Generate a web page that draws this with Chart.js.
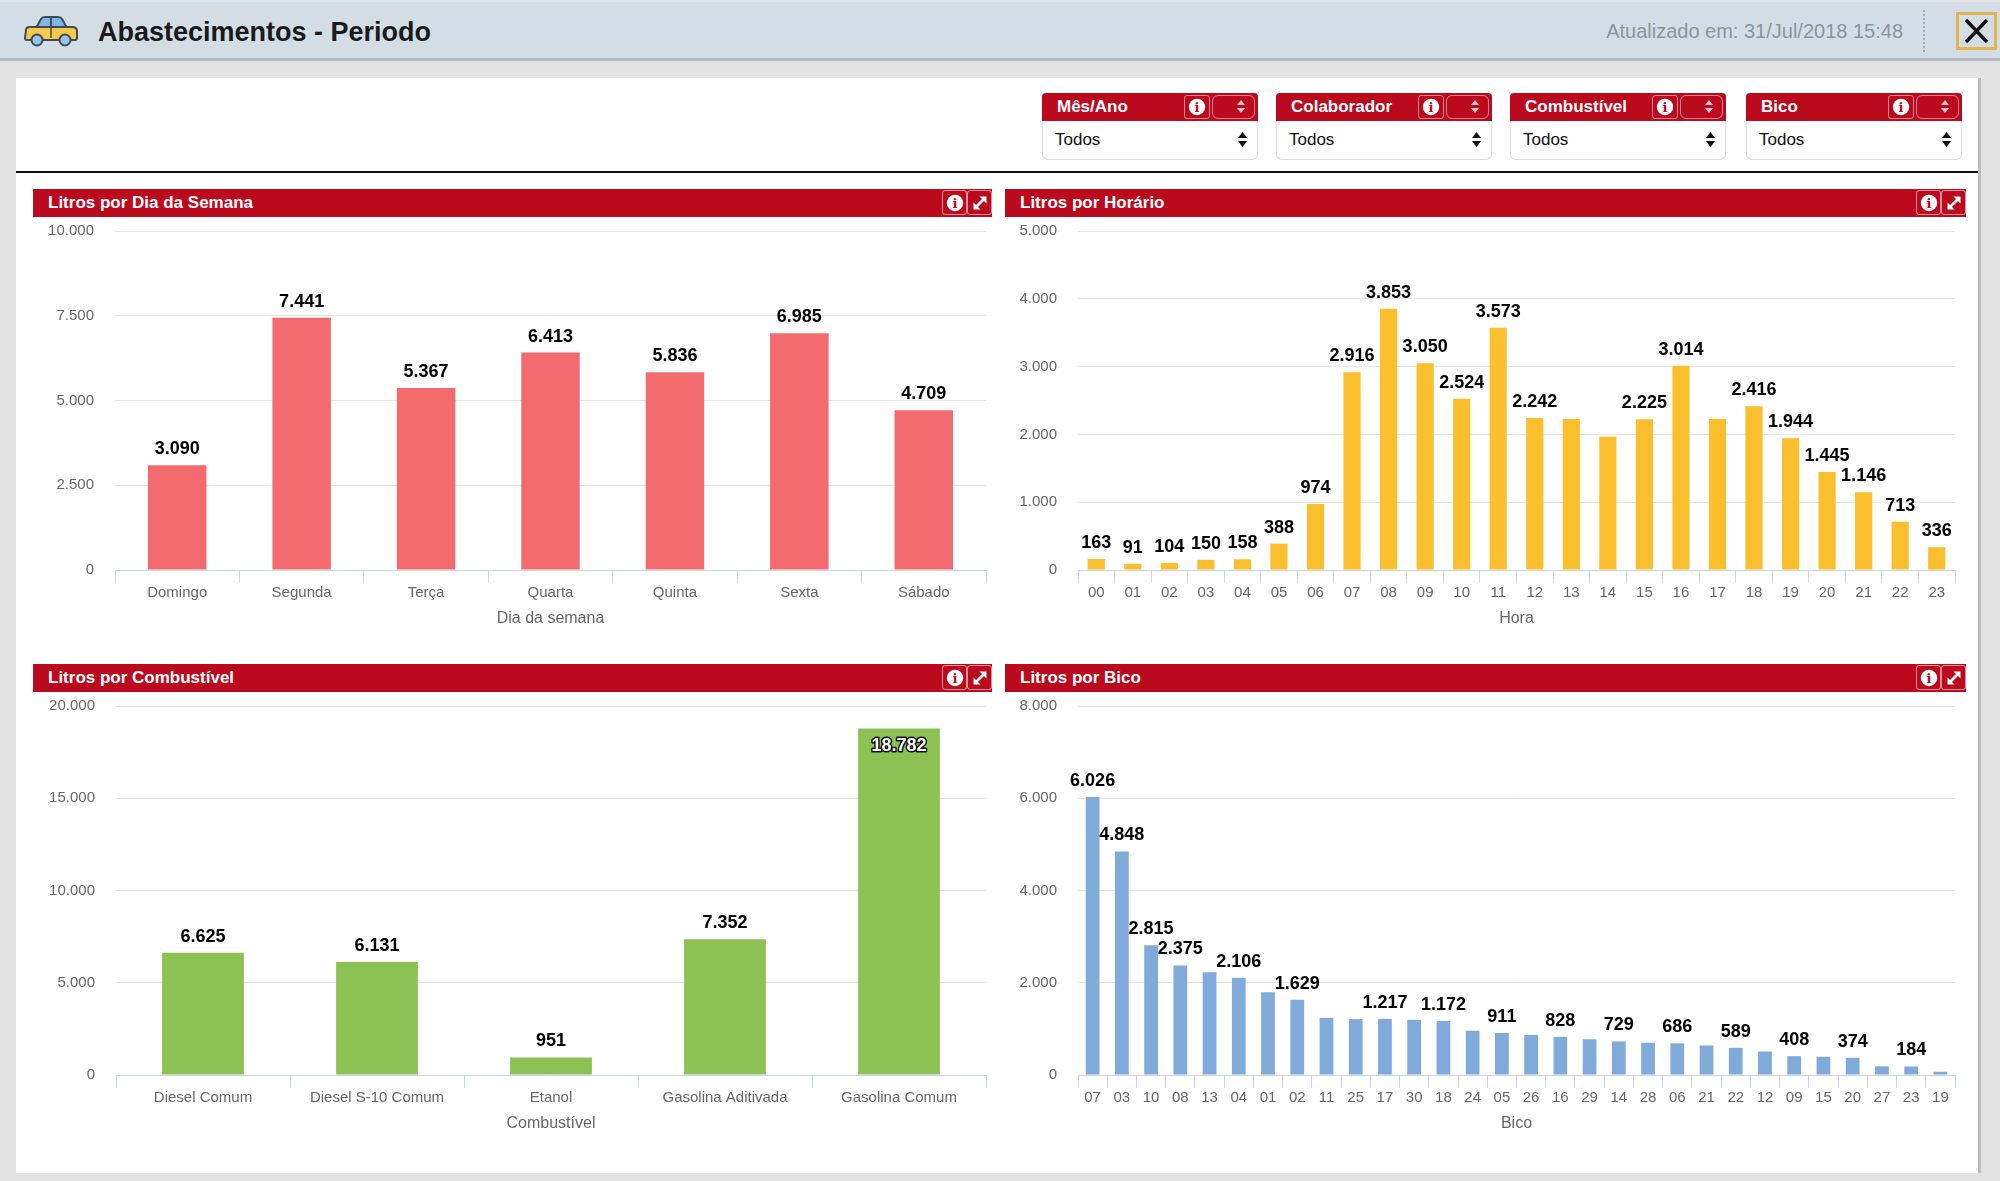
<!DOCTYPE html>
<html><head><meta charset="utf-8">
<script src="https://cdn.jsdelivr.net/npm/chart.js@4.4.1/dist/chart.umd.min.js"></script>
<style>
body{margin:0;width:2000px;height:1181px;overflow:hidden;background:#e3e3e3;position:relative;font-family:"Liberation Sans",Arial,sans-serif;}
.abs{position:absolute;}
#hdr{left:0;top:2px;width:2000px;height:56px;background:#d3dde6;border-bottom:3px solid #b6babe;}
#title{left:98px;top:17px;font-size:27px;font-weight:bold;color:#1a1a1a;white-space:nowrap;}
#upd{right:97px;top:20px;font-size:20px;color:#8b959c;white-space:nowrap;}
#sep{left:1923px;top:10px;height:42px;border-left:2px dotted #a0a8ae;}
#close{left:1956px;top:12px;width:35px;height:32px;border:3px solid #e2b64c;}
#panel{left:16px;top:78px;width:1962px;height:1095px;background:#fff;box-shadow:3px 0 0 #bdbdbd;}
#hline{left:16px;top:171px;width:1962px;height:2px;background:#111;}
.filt{top:93px;width:216px;}
.fh{height:28px;background:#bb0a1e;border-radius:4px 4px 0 0;position:relative;color:#fff;font-weight:bold;font-size:17px;line-height:28px;padding-left:15px;box-sizing:border-box;}
.fi{position:absolute;left:142px;top:2px;width:24px;height:22px;border:1px solid rgba(255,255,255,.5);border-radius:3px;display:flex;align-items:center;justify-content:center;}
.fs{position:absolute;left:170px;top:2px;width:41px;height:22px;border:1px solid rgba(255,255,255,.5);border-radius:6px;}
.fs svg{position:absolute;right:9px;top:4px;}
.sel{height:39px;border:1px solid #dcdcdc;border-top:none;border-radius:0 0 6px 6px;box-sizing:border-box;font-size:17px;line-height:38px;padding-left:12px;color:#111;position:relative;}
.sel svg{position:absolute;right:10px;top:11px;}
.ph{height:28px;background:#bb0a1e;color:#fff;font-weight:bold;font-size:17px;line-height:28px;padding-left:15px;box-sizing:border-box;}
.pb{position:absolute;top:1px;width:23px;height:23px;border:1px solid rgba(255,255,255,.55);border-radius:3px;display:flex;align-items:center;justify-content:center;}
canvas{position:absolute;}
</style>
</head>
<body>
<div id="hdr" class="abs"></div>
<svg class="abs" style="left:22px;top:16px" width="58" height="32" viewBox="0 0 58 32">
 <path d="M14 12 L19 3 Q20 1 23 1 L36 1 Q39 1 40 3 L45 12 Z" fill="#7fb6ea" stroke="#3d4a58" stroke-width="2"/>
 <line x1="29" y1="1" x2="29" y2="12" stroke="#3d4a58" stroke-width="2"/>
 <path d="M4 14 Q4 11 8 11 L50 11 Q55 11 55 15 L55 22 Q55 24 53 24 L5 24 Q3 24 3 22 Z" fill="#f7c94a" stroke="#3d4a58" stroke-width="2"/>
 <line x1="29" y1="12" x2="29" y2="22" stroke="#3d4a58" stroke-width="1.5"/>
 <circle cx="15" cy="24" r="5.5" fill="#9cc4ea" stroke="#3d4a58" stroke-width="2"/>
 <circle cx="43" cy="24" r="5.5" fill="#9cc4ea" stroke="#3d4a58" stroke-width="2"/>
</svg>
<div id="title" class="abs">Abastecimentos - Periodo</div>
<div id="upd" class="abs">Atualizado em: 31/Jul/2018 15:48</div>
<div id="sep" class="abs"></div>
<div id="close" class="abs"><svg width="35" height="32" viewBox="0 0 35 32"><path d="M7 5 L28 27 M28 5 L7 27" stroke="#111" stroke-width="3.4"/></svg></div>
<div id="panel" class="abs"></div>
<div id="hline" class="abs"></div>
<div id="filters"></div>
<div id="panels"></div>
<canvas id="c1" width="959" height="430" style="left:33px;top:217px"></canvas>
<canvas id="c2" width="961" height="430" style="left:1005px;top:217px"></canvas>
<canvas id="c3" width="959" height="460" style="left:33px;top:692px"></canvas>
<canvas id="c4" width="961" height="460" style="left:1005px;top:692px"></canvas>
<script>
// ---- data ----
const diasLabels = ['Domingo','Segunda','Terça','Quarta','Quinta','Sexta','Sábado'];
const diasValores = [3090,7441,5367,6413,5836,6985,4709];

const horaLabels = ['00','01','02','03','04','05','06','07','08','09','10','11','12','13','14','15','16','17','18','19','20','21','22','23'];
const horaValores = [163,91,104,150,158,388,974,2916,3853,3050,2524,3573,2242,2228,1965,2225,3014,2228,2416,1944,1445,1146,713,336];

const combLabels = ['Diesel Comum','Diesel S-10 Comum','Etanol','Gasolina Aditivada','Gasolina Comum'];
const combValores = [6625,6131,951,7352,18782];

const bicoLabels = ['07','03','10','08','13','04','01','02','11','25','17','30','18','24','05','26','16','29','14','28','06','21','22','12','09','15','20','27','23','19'];
const bicoValores = [6026,4848,2815,2375,2230,2106,1793,1629,1240,1212,1217,1195,1172,960,911,870,828,775,729,700,686,640,589,510,408,395,374,188,184,70];

const filtroNomes = ['Mês/Ano','Colaborador','Combustível','Bico'];
const painelTitulos = ['Litros por Dia da Semana','Litros por Horário','Litros por Combustível','Litros por Bico'];

// ---- page furniture ----
const infoSvg = '<svg width="18" height="18" viewBox="0 0 18 18"><circle cx="9" cy="9" r="8.2" fill="#fff"/><text x="9" y="14" text-anchor="middle" font-family="DejaVu Serif, serif" font-weight="bold" font-size="13" fill="#bb0a1e">i</text></svg>';
const expSvg = '<svg width="18" height="18" viewBox="0 0 18 18"><path d="M4 14 L14 4" stroke="#fff" stroke-width="2.6"/><path d="M8.5 2.5 H15.5 V9.5 Z" fill="#fff"/><path d="M2.5 8.5 V15.5 H9.5 Z" fill="#fff"/></svg>';
const spinSvg = '<svg width="8" height="13" viewBox="0 0 8 13"><path d="M4 0 L8 5 H0 Z M0 8 H8 L4 13 Z" fill="#f1c4c9"/></svg>';
const selSvg = '<svg width="9" height="15" viewBox="0 0 9 15"><path d="M4.5 0 L9 6 H0 Z M0 9 H9 L4.5 15 Z" fill="#111"/></svg>';

const fLeft = [1042,1276,1510,1746];
let fh = '';
filtroNomes.forEach((n,i)=>{
  fh += `<div class="abs filt" style="left:${fLeft[i]}px"><div class="fh">${n}<div class="fi">${infoSvg}</div><div class="fs">${spinSvg}</div></div><div class="sel">Todos${selSvg}</div></div>`;
});
document.getElementById('filters').innerHTML = fh;

const pPos = [[33,189,959],[1005,189,961],[33,664,959],[1005,664,961]];
let ph = '';
painelTitulos.forEach((t,i)=>{
  const [l,tp,w] = pPos[i];
  ph += `<div class="abs ph" style="left:${l}px;top:${tp}px;width:${w}px">${t}<div class="pb" style="left:${w-50}px">${infoSvg}</div><div class="pb" style="left:${w-25}px">${expSvg}</div></div>`;
});
document.getElementById('panels').innerHTML = ph;

// ---- charts ----
const FONT = '"Liberation Sans", Arial, sans-serif';
const fmt = v => String(v).replace(/\B(?=(\d{3})+(?!\d))/g, '.');

const valueLabels = {
  id: 'valueLabels',
  afterDatasetsDraw(chart) {
    const ctx = chart.ctx, meta = chart.getDatasetMeta(0), data = chart.data.datasets[0].data, area = chart.chartArea;
    ctx.save();
    ctx.font = 'bold 18px ' + FONT;
    const items = meta.data.map((bar, i) => {
      const text = fmt(data[i]);
      const w = ctx.measureText(text).width;
      let cy = bar.y - 16, inside = false;
      if (cy - 9.5 < area.top) { cy = bar.y + 18; inside = true; }
      return {v: data[i], text, w, x: bar.x, cy, inside, show: false};
    });
    // hide overlapping labels, larger values win
    const order = items.slice().sort((a, b) => b.v - a.v);
    const kept = [];
    order.forEach(it => {
      const b = {l: it.x - it.w / 2 - 2.5, r: it.x + it.w / 2 + 2.5, t: it.cy - 9.5, bt: it.cy + 9.5};
      if (!kept.some(k => b.l < k.r && b.r > k.l && b.t < k.bt && b.bt > k.t)) { kept.push(b); it.show = true; }
    });
    ctx.textAlign = 'center';
    ctx.textBaseline = 'middle';
    items.forEach(it => {
      if (!it.show) return;
      if (it.inside) {
        ctx.lineWidth = 3; ctx.lineJoin = 'round'; ctx.strokeStyle = '#111';
        ctx.strokeText(it.text, it.x, it.cy);
        ctx.fillStyle = '#fff';
      } else ctx.fillStyle = '#000';
      ctx.fillText(it.text, it.x, it.cy);
    });
    ctx.restore();
  }
};

function makeChart(id, labels, values, color, yMax, yStep, xTitle, yWidth, padRight) {
  return new Chart(document.getElementById(id), {
    type: 'bar',
    data: {labels, datasets: [{data: values, backgroundColor: color, borderWidth: 0, barPercentage: 0.47, categoryPercentage: 1}]},
    options: {
      responsive: false, animation: false, devicePixelRatio: 1,
      layout: {autoPadding: false, padding: {top: 14, right: padRight, bottom: 0, left: 0}},
      plugins: {legend: {display: false}, tooltip: {enabled: false}},
      scales: {
        x: {
          grid: {display: true, drawOnChartArea: false, drawTicks: true, tickLength: 13, color: '#ccd6eb', offset: true},
          border: {display: true, color: '#ccd6eb'},
          ticks: {color: '#666', font: {size: 15, family: FONT}, padding: 1, maxRotation: 0, autoSkip: false},
          title: {display: true, text: xTitle, color: '#666', font: {size: 16, family: FONT}, padding: {top: 0, bottom: 19}},
          afterFit(s) { s.height = 77; }
        },
        y: {
          min: 0, max: yMax,
          ticks: {stepSize: yStep, color: '#666', font: {size: 15, family: FONT}, padding: 0, callback: v => fmt(v)},
          grid: {color: '#e6e6e6', drawTicks: true, tickLength: 21, tickColor: 'rgba(0,0,0,0)'},
          border: {display: false},
          afterFit(s) { s.width = yWidth; }
        }
      }
    },
    plugins: [valueLabels]
  });
}

makeChart('c1', diasLabels, diasValores, '#f36b6e', 10000, 2500, 'Dia da semana', 82, 6);
makeChart('c2', horaLabels, horaValores, '#fbbf2e', 5000, 1000, 'Hora', 73, 11);
makeChart('c3', combLabels, combValores, '#8cc153', 20000, 5000, 'Combustível', 83, 6);
makeChart('c4', bicoLabels, bicoValores, '#80aad9', 8000, 2000, 'Bico', 73, 11);
</script>
</body></html>
